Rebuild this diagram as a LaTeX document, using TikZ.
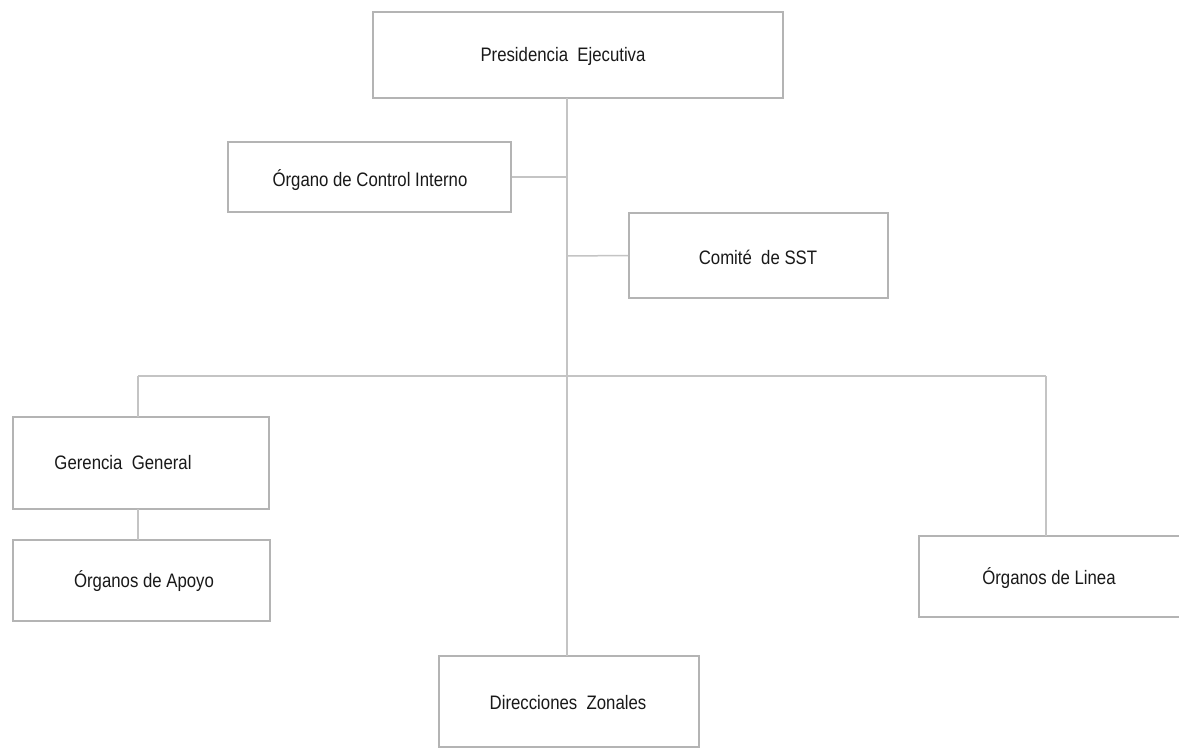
\documentclass[tikz,border=0pt]{standalone}
\usepackage{fontspec}
\newfontfamily\orgfont[FakeStretch=0.86]{Liberation Sans}
\definecolor{boxline}{HTML}{B4B4B4}
\definecolor{conline}{HTML}{C4C4C4}
\tikzset{
  orgbox/.style={draw=boxline, line width=1.6pt, fill=white, rectangle, inner sep=0pt},
  orgtext/.style={font=\orgfont\fontsize{19.5}{22}\selectfont, text=black!90, inner sep=0pt},
  conn/.style={draw=conline, line width=1.5pt}
}
\begin{document}
\begin{tikzpicture}[x=1pt,y=-1pt]
\useasboundingbox[fill=white] (0,0) rectangle (1179,749);
% boxes
\node[orgbox, minimum width=410pt, minimum height=86pt] (pres) at (578,55) {};
\node[orgbox, minimum width=283pt, minimum height=70pt] (oci) at (369.5,177) {};
\node[orgbox, minimum width=259pt, minimum height=85pt] (sst) at (758.5,255.5) {};
\node[orgbox, minimum width=256pt, minimum height=92pt] (gg) at (141,463) {};
\node[orgbox, minimum width=257pt, minimum height=81pt] (apoyo) at (141.5,580.5) {};
\node[orgbox, minimum width=262pt, minimum height=81pt] (linea) at (1050,576.5) {};
\node[orgbox, minimum width=260pt, minimum height=91pt] (dz) at (569,701.5) {};
% texts
\node[orgtext] (tpres) at (563,56) {Presidencia\ \ Ejecutiva};
\node[orgtext] (toci) at (370,180) {Órgano de Control Interno};
\node[orgtext] (tsst) at (758,257) {Comité\ \ de SST};
\node[orgtext] (tgg) at (123,463) {Gerencia\ \ General};
\node[orgtext] (tapoyo) at (144,581) {Órganos de Apoyo};
\node[orgtext] (tlinea) at (1049,578) {Órganos de Linea};
\node[orgtext] (tdz) at (568,703) {Direcciones\ \ Zonales};
% connector points
\coordinate (spinetop) at (567,98);
\coordinate (joci) at (567,177);
\coordinate (jsst) at (567,256);
\coordinate (jbus) at (567,376);
\coordinate (busl) at (138,376);
\coordinate (busr) at (1046,376);
\coordinate (ggtop) at (138,417);
\coordinate (ggbot) at (138,509);
\coordinate (apoyotop) at (138,540);
\coordinate (lineatop) at (1046,536);
\coordinate (dztop) at (567,656);
% connectors
\draw[conn] (spinetop) -- (dztop);
\draw[conn] (oci.east) -- (joci);
\draw[conn] (sst.west) -- (jsst);
\draw[conn] (busl) -- (busr);
\draw[conn] (busl) -- (ggtop);
\draw[conn] (busr) -- (lineatop);
\draw[conn] (ggbot) -- (apoyotop);
\end{tikzpicture}
\end{document}
